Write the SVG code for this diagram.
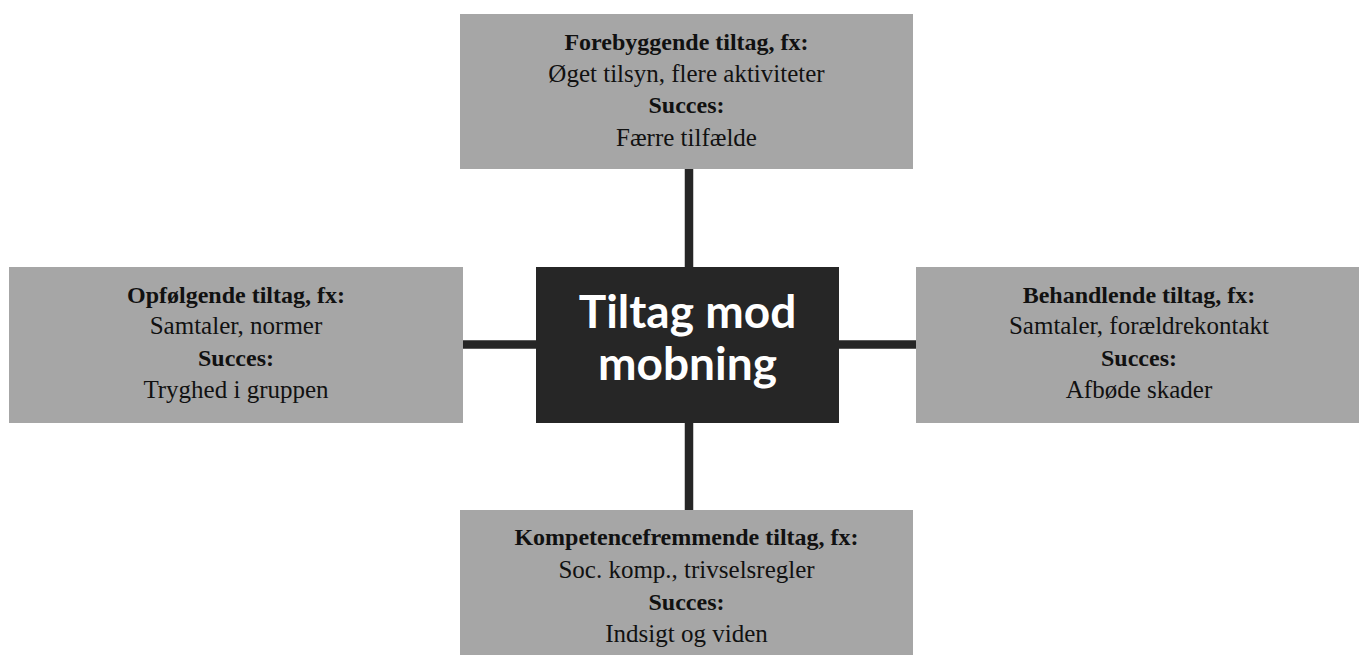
<svg xmlns="http://www.w3.org/2000/svg" width="1359" height="655" viewBox="0 0 1359 655">
<style>
.box{fill:#a6a6a6}
.t{font-family:"Liberation Serif","Times New Roman",serif;font-size:25px;fill:#111;text-anchor:middle}
.b{font-weight:bold;font-size:24px}
.c{font-family:Lato,"DejaVu Sans",sans-serif;font-weight:bold;font-size:46px;fill:#fff;text-anchor:middle}
.ln{stroke:#262626;stroke-width:8.5;fill:none}
</style>
<rect width="1359" height="655" fill="#fff"/>
<g id="connectors">
<line class="ln" x1="689" y1="169" x2="689" y2="267"/>
<line class="ln" x1="689" y1="423" x2="689" y2="510"/>
<line class="ln" x1="463" y1="344.5" x2="536" y2="344.5"/>
<line class="ln" x1="839" y1="344.5" x2="916" y2="344.5"/>
</g>
<g id="center">
<rect x="536" y="267" width="303" height="156" fill="#262626"/>
<text class="c" x="687.5" y="328">Tiltag mod</text>
<text class="c" x="687.5" y="380">mobning</text>
</g>
<g id="top">
<rect class="box" x="460" y="14" width="453" height="155"/>
<text class="t b" x="686.5" y="50">Forebyggende tiltag, fx:</text>
<text class="t" x="686.5" y="82">Øget tilsyn, flere aktiviteter</text>
<text class="t b" x="686.5" y="113">Succes:</text>
<text class="t" x="686.5" y="146">Færre tilfælde</text>
</g>
<g id="left">
<rect class="box" x="9" y="267" width="454" height="156"/>
<text class="t b" x="236" y="303">Opfølgende tiltag, fx:</text>
<text class="t" x="236" y="334">Samtaler, normer</text>
<text class="t b" x="236" y="366">Succes:</text>
<text class="t" x="236" y="398">Tryghed i gruppen</text>
</g>
<g id="right">
<rect class="box" x="916" y="267" width="454" height="156"/>
<text class="t b" x="1139" y="303">Behandlende tiltag, fx:</text>
<text class="t" x="1139" y="334">Samtaler, forældrekontakt</text>
<text class="t b" x="1139" y="366">Succes:</text>
<text class="t" x="1139" y="398">Afbøde skader</text>
</g>
<g id="bottom">
<rect class="box" x="460" y="510" width="453" height="155"/>
<text class="t b" x="686.5" y="545">Kompetencefremmende tiltag, fx:</text>
<text class="t" x="686.5" y="578">Soc. komp., trivselsregler</text>
<text class="t b" x="686.5" y="610">Succes:</text>
<text class="t" x="686.5" y="642">Indsigt og viden</text>
</g>
</svg>
